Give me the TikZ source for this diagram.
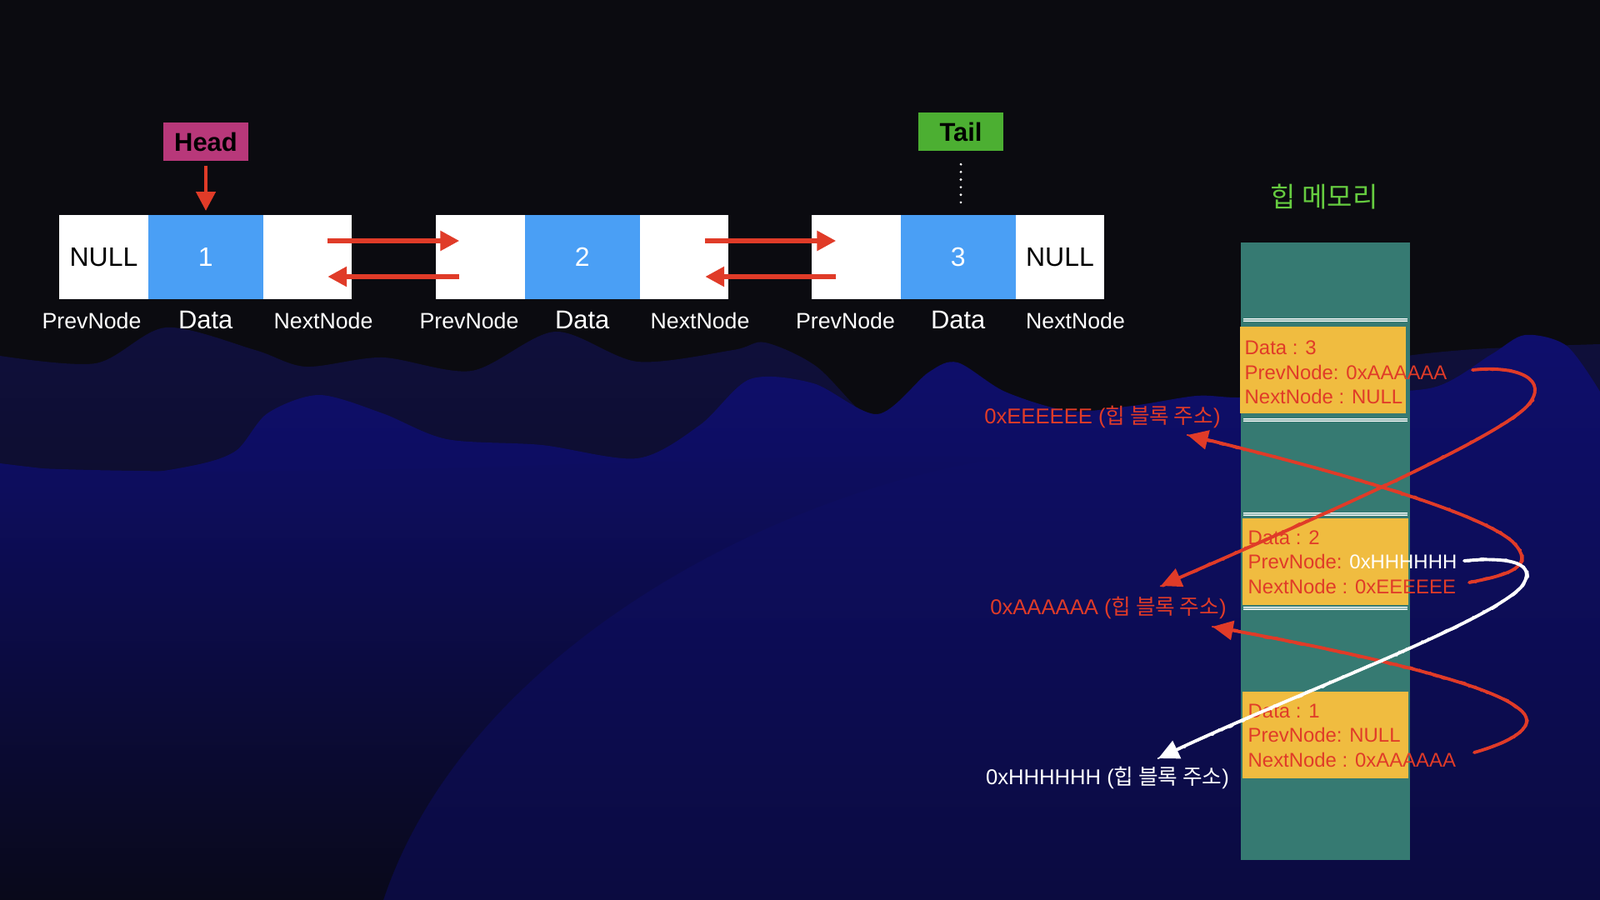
\documentclass[tikz,border=0pt]{standalone}
\usepackage{fontspec}
\setmainfont{Liberation Sans}
\newfontfamily\kr{Noto Sans CJK KR}
\usetikzlibrary{arrows.meta,positioning,decorations.pathmorphing}

\definecolor{bgdark}{HTML}{0B0B10}
\definecolor{hillback}{HTML}{0F0F3C}
\definecolor{hilltop}{HTML}{0E0E6C}
\definecolor{hilllow}{HTML}{0B0B40}
\definecolor{shadow}{HTML}{09091A}
\definecolor{cellblue}{HTML}{4A9FF5}
\definecolor{headpink}{HTML}{B8387A}
\definecolor{tailgreen}{HTML}{4CAF32}
\definecolor{arrowred}{HTML}{E03B28}
\definecolor{heapteal}{HTML}{367A72}
\definecolor{blockyellow}{HTML}{F0BC40}
\definecolor{titlegreen}{HTML}{66CC40}

\begin{document}
\begin{tikzpicture}[font=\fontsize{7.6}{9}\selectfont]
	\tikzset{ptr/.style={fill=white, minimum width=1.065cm, minimum height=1.01cm, inner sep=0pt, outer sep=0pt, font=\fontsize{9.1}{11}\selectfont},
		dat/.style={ptr, fill=cellblue, minimum width=1.38cm, text=white},
		tag/.style={minimum width=1.02cm, minimum height=0.46cm, inner sep=0pt, font=\bfseries\fontsize{8.8}{10}\selectfont},
		caption/.style={text=white, inner sep=0pt},
		capbig/.style={caption, font=\fontsize{8.8}{10}\selectfont},
		block/.style={fill=blockyellow, minimum width=1.99cm, minimum height=1.04cm, inner sep=0pt},
		blocktext/.style={anchor=west, align=left, inner sep=0pt, text=arrowred, font=\fontsize{6.8}{8.4}\selectfont},
		addr/.style={inner sep=0pt, text=arrowred, font=\fontsize{7.3}{9}\selectfont},
		link/.style={arrowred, line width=1.7pt, -{Triangle[length=6.5pt,width=6.5pt]}},
		chalk/.style={arrowred, line width=1.1pt, line cap=round, -{Triangle[length=7pt,width=6.5pt]},
			postaction={draw, arrows=-, line width=0.5pt, decorate, decoration={random steps, segment length=1.2pt, amplitude=0.5pt}}},
		sepline/.style={white, line width=0.3pt, double=heapteal!50!white, double distance=0.3pt}}
	\useasboundingbox (0,0) rectangle (19.2,10.8);

	% background hills
	\fill[bgdark] (0,0) rectangle (19.2,10.8);
	\shade[top color=hillback, bottom color=bgdark] plot[smooth] coordinates {(0,6.53) (1.15,6.44) (1.99,6.87) (3.06,6.6) (3.67,6.4) (4.59,6.51) (5.66,6.35) (6.66,6.82) (7.65,6.46) (8.8,6.6) (9.18,6.69) (9.8,6.4) (10.48,5.73) (11.2,5.5) (14.8,5.5) (15.5,6.0) (16.5,6.45) (17.56,6.6) (19.2,6.67)} -- (19.2,0) -- (0,0) -- cycle;
	\shade[top color=hilltop, bottom color=hilllow] plot[smooth] coordinates {(0,5.24) (1.38,5.1) (2.3,5.21) (2.83,5.39) (3.21,5.84) (3.83,6.06) (4.59,5.84) (5.36,5.53) (6.5,5.46) (7.65,5.3) (8.4,5.7) (9.0,6.25) (9.76,6.2) (10.53,5.83) (11.14,6.33) (11.49,6.45) (12.06,6.1) (12.83,5.87) (13.59,5.93) (14.36,6.05) (14.89,6.03) (16.0,6.08) (17.2,6.15) (17.9,6.55) (18.3,6.78) (18.8,6.65) (19.2,6.1)} -- (19.2,0) -- (0,0) -- cycle;
	\shade[top color=hilltop!78!hilllow, bottom color=shadow] (0,5.2) .. controls (4,5.0) and (9,5.4) .. (12.0,5.3) .. controls (9.3,4.9) and (5.6,3.0) .. (4.6,0) -- (0,0) -- cycle;

	% list nodes
	\node[ptr] (p1) at (1.245,7.715) {NULL};
	\node[dat, right=0pt of p1] (d1) {1};
	\node[ptr, right=0pt of d1] (n1) {};
	\node[ptr, right=1.01cm of n1] (p2) {};
	\node[dat, right=0pt of p2] (d2) {2};
	\node[ptr, right=0pt of d2] (n2) {};
	\node[ptr, right=1.0cm of n2] (p3) {};
	\node[dat, right=0pt of p3] (d3) {3};
	\node[ptr, right=0pt of d3] (n3) {NULL};

	\node[caption] (lp1) at ([xshift=-0.145cm, yshift=-0.26cm]p1.south) {PrevNode};
	\node[capbig] (ld1) at ([yshift=-0.25cm]d1.south) {Data};
	\node[caption] (ln1) at ([xshift=0.19cm, yshift=-0.26cm]n1.south) {NextNode};
	\node[caption] (lp2) at ([xshift=-0.135cm, yshift=-0.26cm]p2.south) {PrevNode};
	\node[capbig] (ld2) at ([yshift=-0.25cm]d2.south) {Data};
	\node[caption] (ln2) at ([xshift=0.19cm, yshift=-0.26cm]n2.south) {NextNode};
	\node[caption] (lp3) at ([xshift=-0.13cm, yshift=-0.26cm]p3.south) {PrevNode};
	\node[capbig] (ld3) at ([yshift=-0.25cm]d3.south) {Data};
	\node[caption] (ln3) at ([xshift=0.185cm, yshift=-0.26cm]n3.south) {NextNode};

	\node[tag, fill=headpink] (head) at (2.47,9.10) {Head};
	\node[tag, fill=tailgreen] (tail) at (11.53,9.215) {Tail};
	\draw[arrowred, line width=1.3pt, -{Triangle[length=6.5pt,width=6.5pt]}, shorten <=0.05cm, shorten >=0.05cm] (head) -- (head |- d1.north);
	\draw[white, line width=0.9pt, line cap=round, dash pattern=on 0pt off 2.6pt, shorten <=0.15cm, shorten >=0.08cm] (tail.south) -- (tail.south |- d3.north);

	\draw[link] ([xshift=-0.29cm, yshift=0.195cm]n1.east) -- ([xshift=0.28cm, yshift=0.195cm]p2.west);
	\draw[link] ([xshift=0.28cm, yshift=-0.235cm]p2.west) -- ([xshift=-0.29cm, yshift=-0.235cm]n1.east);
	\draw[link] ([xshift=-0.28cm, yshift=0.195cm]n2.east) -- ([xshift=0.29cm, yshift=0.195cm]p3.west);
	\draw[link] ([xshift=0.29cm, yshift=-0.235cm]p3.west) -- ([xshift=-0.28cm, yshift=-0.235cm]n2.east);

	% heap memory
	\node[text=titlegreen, font=\kr\fontsize{9.4}{11}\selectfont] (title) at (15.89,8.44) {힙 메모리};
	\node[fill=heapteal, minimum width=2.03cm, minimum height=7.41cm, inner sep=0pt] (heap) at (15.905,4.185) {};
	\foreach \y in {6.96,5.76,4.63,3.50}
		\draw[sepline] (14.92,\y) -- (16.89,\y);
	\node[block] (b3) at (15.87,6.355) {};
	\node[block] (b2) at (15.905,4.06) {};
	\node[block] (b1) at (15.905,1.98) {};
	\node[blocktext] (t3) at (14.93,6.33) {Data : 3\\PrevNode: 0xAAAAAA\\NextNode : NULL};
	\node[blocktext] (t2) at (14.97,4.053) {Data : 2\\PrevNode: {\color{white}0xHHHHHH}\\NextNode : 0xEEEEEE};
	\node[blocktext] (t1) at (14.97,1.973) {Data : 1\\PrevNode: NULL\\NextNode : 0xAAAAAA};

	\node[addr] (addrE) at (13.23,5.80) {0xEEEEEE ({\kr 힙 블록 주소})};
	\node[addr] (addrA) at (13.30,3.51) {0xAAAAAA ({\kr 힙 블록 주소})};
	\node[addr, text=white] (addrH) at (13.29,1.47) {0xHHHHHH ({\kr 힙 블록 주소})};

	% pointers in the heap
	\coordinate (prev3) at (17.67,6.36);
	\coordinate (next2) at (17.63,3.81);
	\coordinate (next1) at (17.69,1.77);
	\coordinate (prev2) at (17.57,4.07);
	\coordinate (toA) at ([xshift=0.63cm, yshift=0.26cm]addrA.center);
	\coordinate (toE) at ([xshift=1.02cm, yshift=-0.22cm]addrE.center);
	\coordinate (toA2) at ([xshift=1.25cm, yshift=-0.23cm]addrA.center);
	\coordinate (toH) at ([xshift=0.61cm, yshift=0.23cm]addrH.center);
	\draw[chalk] (prev3) .. controls (18.20,6.42) and (18.62,6.25) .. (18.32,5.92) .. controls (17.90,5.50) and (15.60,4.50) .. (toA);
	\draw[chalk] (next2) .. controls (18.10,3.90) and (18.45,4.00) .. (18.15,4.30) .. controls (17.70,4.70) and (15.60,5.25) .. (toE);
	\draw[chalk] (next1) .. controls (18.15,1.90) and (18.50,2.10) .. (18.22,2.30) .. controls (17.80,2.65) and (15.80,3.05) .. (toA2);
	\draw[chalk, white] (prev2) .. controls (18.10,4.12) and (18.48,4.05) .. (18.25,3.75) .. controls (17.80,3.30) and (15.60,2.50) .. (toH);
\end{tikzpicture}
\end{document}
